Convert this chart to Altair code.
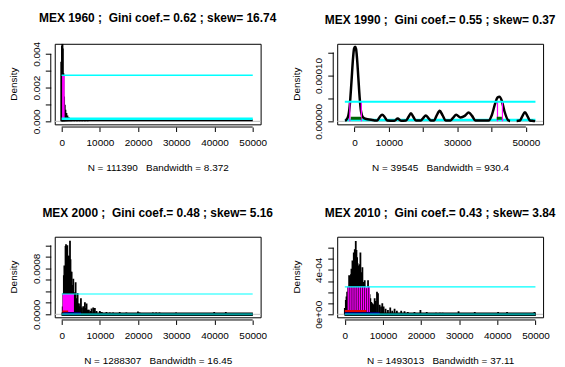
import altair as alt
import pandas as pd

FONT = "Liberation Sans"
NB = "\u00a0"

# ---------------- data ----------------
titles = ["MEX 1960 ;" + NB + " Gini coef.= 0.62 ; skew= 16.74",
          "MEX 1990 ;" + NB + " Gini coef.= 0.55 ; skew= 0.37",
          "MEX 2000 ;" + NB + " Gini coef.= 0.48 ; skew= 5.16",
          "MEX 2010 ;" + NB + " Gini coef.= 0.43 ; skew= 3.84"]
subtitles = ["N = 111390" + NB + NB + " Bandwidth = 8.372",
             "N = 39545" + NB + NB + " Bandwidth = 930.4",
             "N = 1288307" + NB + NB + " Bandwidth = 16.45",
             "N = 1493013" + NB + NB + " Bandwidth = 37.11"]
y_title = "Density"

x_ticks = [0, 10000, 20000, 30000, 40000, 50000]

# panel 1 (1960)
p1_xdom = [-1823, 52083]
p1_ydom = [-0.000177, 0.0046]
p1_yticks = [0, 0.001, 0.002, 0.003, 0.004]
p1_spike_x = [-100, 87, 180, 260, 434, 608, 781, 955, 1215, 1476, 1823, 2257,
              2604, 3299, 3993, 4688, 5382, 6076, 6771]
p1_spike_y = [0.00354, 0.00448, 0.0046, 0.00432, 0.00285, 0.00147, 0.00098,
              0.00069, 0.00049, 0.00035, 0.00024, 0.00016,
              0.00012, 0.00012, 0.00012, 0.00012, 0.00012, 0.00012, 0.00012]
p1_cyan_hi = 0.00273
p1_cyan_lo = 0.00016
p1_base = 0.00006
p1_mag_x = [300, 430, 560]
p1_mag_lo = 0.00015

# panel 2 (1990)
p2_xdom = [-5014, 55014]
p2_ydom = [-0.0000065, 0.000169]
p2_yticks = [0, 0.00005, 0.0001, 0.00015]
p2_curve_x = [-2700, -2495, -1821, -1339, -857, -376, -87, 202, 491, 780, 1165,
              1551, 1936, 2515, 3478, 4923, 5886,
              6656, 7330, 8101, 8872, 9547,
              11666, 12629, 13592,
              15037, 15808, 16482, 17156, 17927,
              19372, 20046, 20817, 21588, 22262,
              23226, 23996, 24863, 25730, 26597,
              28042, 28813, 29680, 30932, 32185, 33341, 34305, 35268,
              39122, 40085, 41048, 41723, 42301, 42975, 43746, 44902, 45384,
              47311, 48274, 48948, 49720, 50491, 51165, 52128, 52700]
p2_curve_y = [0.000001, 0.000002, 0.0000107, 0.0000358, 0.0000858, 0.0001395,
              0.0001588, 0.0001624, 0.0001574, 0.0001359, 0.000093, 0.00005,
              0.0000215, 0.0000086, 0.000005, 0.0000036, 0.0000021,
              0.000002, 0.000009, 0.0000143, 0.000009, 0.000002,
              0.0000015, 0.000006, 0.0000015,
              0.000002, 0.00001, 0.0000179, 0.00001, 0.000002,
              0.000002, 0.000007, 0.0000129, 0.000007, 0.000002,
              0.000002, 0.000013, 0.0000229, 0.000013, 0.000002,
              0.000002, 0.000008, 0.0000143, 0.0000086, 0.000012, 0.0000193,
              0.000012, 0.000002,
              0.000002, 0.000014, 0.000039, 0.000052, 0.0000537, 0.000045,
              0.000022, 0.000002, 0.000001,
              0.000001, 0.000002, 0.000011, 0.00002, 0.000011, 0.000002,
              0.000001, 0.0000005]
p2_curve_seg = [1] * 57 + [2] * 8
p2_cyan_hi = 0.0000429
p2_cyan_lo = 0.0000028
p2_cyan_x = [-2791, 52791]
p2_mag_x = [-1340, 2033, 41723, 43168]
p2_green_x = [-1050, 41500]
p2_green_x2 = [2030, 43000]
p2_green_y = 0.000007

# panel 3 (2000)
p3_xdom = [-1823, 52083]
p3_ydom = [-0.0000513, 0.00135]
p3_yticks = [0, 0.0002, 0.0004, 0.0006, 0.0008, 0.001, 0.0012]
p3_spike_x = [260, 434, 560, 694, 868, 1000, 1128, 1220, 1302, 1400, 1476, 1600,
              1736, 1820, 1910, 2050, 2170, 2300, 2431, 2520, 2604, 2800, 3038,
              3170, 3299, 3450, 3646, 3900, 4167, 4340, 4514, 4780, 5035, 5300,
              5642, 5850, 6076, 6300, 6510, 6800, 7118, 7500, 7813, 8247, 8681,
              9115, 9983, 10156, 10500, 11719, 12587, 13455, 15191, 16927, 19965,
              20399, 23872, 24740, 25608, 29948, 39931, 42969]
p3_spike_y = [0.000137, 0.000365, 0.00068, 0.000849, 0.00068, 0.00119, 0.00122,
              0.00108, 0.00116, 0.0009, 0.0012, 0.00079, 0.00102, 0.00056,
              0.00102, 0.00079, 0.00128, 0.00096, 0.00074, 0.00045, 0.00074,
              0.00051, 0.00062, 0.00039, 0.00037, 0.00028, 0.00056, 0.00028,
              0.00037, 0.00019, 0.00019, 0.00014, 0.00028, 0.00012, 0.00014,
              0.0001, 0.00021, 0.00011, 0.00019, 0.00008, 0.00008, 0.00006,
              0.0001, 0.00012, 0.00011, 0.00006, 0.00006, 0.00004, 0.00004,
              0.00004, 0.000034, 0.00003, 0.00004, 0.00003, 0.00005, 0.00003,
              0.00003, 0.00003, 0.00003, 0.00003, 0.00004, 0.00004]
p3_cyan_hi = 0.000354
p3_mag_x = [450, 600, 750, 900, 1050, 1200, 1350, 1500, 1650, 1800, 1950, 2100,
            2250, 2400, 2550, 2700, 2850, 3000]
p3_mag_lo = 0.00004
p3_red_x = [200, 1700]
p3_red_y = 0.00005
p3_navy_x = [434, 5035]
p3_navy_y = 0.00002

# panel 4 (2010)
p4_xdom = [-2000, 52000]
p4_ydom = [-0.0000269, 0.000699]
p4_yticks = [0, 0.0001, 0.0002, 0.0003, 0.0004, 0.0005, 0.0006]
p4_spike_x = [0, 261, 435, 609, 870, 1000, 1130, 1300, 1478, 1600, 1739, 1870,
              2000, 2200, 2348, 2480, 2609, 2740, 2870, 3050, 3218, 3350, 3479,
              3600, 3740, 3900, 4087, 4200, 4348, 4480, 4609, 4780, 4957, 5100,
              5218, 5400, 5653, 5850, 6088, 6200, 6348, 6500, 6696, 6950, 7218,
              7500, 7827, 8100, 8436, 8697, 9132, 9500, 9827, 10175, 10697,
              11306, 11914, 12436, 13045, 13653, 14785, 15655, 16524, 18263,
              19829, 21481, 23916, 24960, 25655, 29829, 34080, 40200, 42550,
              49740]
p4_spike_y = [0.000056, 0.00013, 0.00016, 0.000204, 0.000248, 0.00021, 0.000351,
              0.00025, 0.000322, 0.00036, 0.00041, 0.00038, 0.000484, 0.00045,
              0.000558, 0.00052, 0.000587, 0.00055, 0.000661, 0.00058, 0.000513,
              0.00046, 0.00044, 0.0004, 0.000425, 0.00045, 0.000558, 0.00035,
              0.000307, 0.00038, 0.000425, 0.00028, 0.000292, 0.00026, 0.000307,
              0.00022, 0.000233, 0.00024, 0.000307, 0.00022, 0.000248, 0.00018,
              0.000145, 0.00011, 0.0001, 0.00009, 0.000145, 0.00012, 0.000204,
              0.000189, 0.0000856, 0.00007, 0.0001, 0.0000708, 0.00005,
              0.0000383, 0.000062, 0.0000325, 0.00005, 0.0000325, 0.0000325,
              0.0000266, 0.0000206, 0.0000206, 0.0000383, 0.0000206, 0.0000148,
              0.0000148, 0.0000148, 0.0000266, 0.0000206, 0.0000206, 0.0000206,
              0.0000206]
p4_cyan_hi = 0.000248
p4_mag_x = [900, 1400, 1900, 2400, 2900, 3400, 3900, 4400, 4900, 5400, 5900, 6400]
p4_mag_lo = 0.00002
p4_red_x = [0, 5650]
p4_red_y = 0.00003
p4_navy_x = [0, 9132]
p4_navy_y = 0.00001

W, H = 207, 81
X_OFF, Y_OFF = 2.7, 4


# ---------------- helpers ----------------
def enc_x(dom, vals, expr, title):
    return alt.X("x:Q", scale=alt.Scale(domain=dom, nice=False, zero=False),
                 axis=alt.Axis(values=vals, labelExpr=expr, format="d", title=title))


def enc_y(dom, vals, expr):
    return alt.Y("y:Q", scale=alt.Scale(domain=dom, nice=False, zero=False),
                 axis=alt.Axis(values=vals, labelExpr=expr, title=""))


def hseg(xs, x2s, ys, X, Y, color, width, opacity=1.0):
    df = pd.DataFrame({"x": xs, "x2": x2s, "y": ys})
    return alt.Chart(df).mark_rule(color=color, strokeWidth=width, opacity=opacity,
                                   clip=True).encode(x=X, x2="x2:Q", y=Y)


def vseg(xs, ylo, yhi, X, Y, color, width):
    df = pd.DataFrame({"x": xs, "y": yhi, "y2": ylo})
    return alt.Chart(df).mark_rule(color=color, strokeWidth=width,
                                   clip=True).encode(x=X, y=Y, y2="y2:Q")


def zero_line(X, Y):
    df = pd.DataFrame({"y": [0.0]})
    return alt.Chart(df).mark_rule(color="#BEBEBE", strokeWidth=1).encode(y=Y)


def axis_lines(X, Y, xt, yt):
    dx = pd.DataFrame({"x": [xt[0]], "x2": [xt[-1]]})
    dy = pd.DataFrame({"y": [yt[0]], "y2": [yt[-1]]})
    lx = alt.Chart(dx).mark_rule(color="black", strokeWidth=1).encode(
        x=X, x2="x2:Q", y=alt.value(H + X_OFF))
    ly = alt.Chart(dy).mark_rule(color="black", strokeWidth=1).encode(
        y=Y, y2="y2:Q", x=alt.value(-Y_OFF))
    lab = alt.Chart(pd.DataFrame({"t": [y_title]})).mark_text(
        angle=270, font=FONT, fontSize=10, align="center", baseline="alphabetic",
        color="black").encode(text="t:N", x=alt.value(-37.7), y=alt.value(H / 2))
    return [lx, ly, lab]


def frame(chart, title):
    return chart.properties(width=W, height=H, title=alt.Title(title))


xlab_all = "datum.label"
xlab_p2 = "(datum.value == 20000 || datum.value == 40000) ? '' : datum.label"

# panel 1
X1 = enc_x(p1_xdom, x_ticks, xlab_all, subtitles[0])
Y1 = enc_y(p1_ydom, p1_yticks,
           "(datum.value == 0.001 || datum.value == 0.003) ? '' : format(datum.value, '.3f')")
n1 = len(p1_spike_x)
panel1 = alt.layer(
    zero_line(X1, Y1),
    hseg([-25], [50025], [p1_base], X1, Y1, "black", 2),
    vseg(p1_spike_x, [0.0] * n1, p1_spike_y, X1, Y1, "black", 2),
    vseg(p1_mag_x, [p1_mag_lo] * len(p1_mag_x), [p1_cyan_hi] * len(p1_mag_x), X1, Y1, "#FF00FF", 1.5),
    hseg([-25], [50025], [p1_cyan_hi], X1, Y1, "#00FFFF", 1.5),
    hseg([-25], [50025], [p1_cyan_lo], X1, Y1, "#00FFFF", 2.5),
    *axis_lines(X1, Y1, x_ticks, p1_yticks),
)
panel1 = frame(panel1, titles[0])

# panel 2
X2 = enc_x(p2_xdom, x_ticks, xlab_p2, subtitles[1])
Y2 = enc_y(p2_ydom, p2_yticks,
           "(datum.value == 0 || datum.value == 0.0001) ? format(datum.value, '.5f') : ''")
curve2 = alt.Chart(pd.DataFrame({"x": p2_curve_x, "y": p2_curve_y, "seg": p2_curve_seg})).mark_line(
    color="black", strokeWidth=2.5, clip=True, interpolate="monotone").encode(
    x=X2, y=Y2, detail="seg:N")
nm2 = len(p2_mag_x)
panel2 = alt.layer(
    zero_line(X2, Y2),
    hseg([p2_cyan_x[0]], [p2_cyan_x[1]], [p2_cyan_lo], X2, Y2, "#00FFFF", 2.5),
    curve2,
    vseg(p2_mag_x, [0.0] * nm2, [p2_cyan_hi] * nm2, X2, Y2, "#FF00FF", 1.2),
    hseg(p2_green_x, p2_green_x2, [p2_green_y] * 2, X2, Y2, "#006400", 3),
    hseg([p2_cyan_x[0]], [p2_cyan_x[1]], [p2_cyan_hi], X2, Y2, "#00FFFF", 2),
    *axis_lines(X2, Y2, x_ticks, p2_yticks),
)
panel2 = frame(panel2, titles[1])

# panel 3
X3 = enc_x(p3_xdom, x_ticks, xlab_all, subtitles[2])
Y3 = enc_y(p3_ydom, p3_yticks,
           "(datum.value == 0 || datum.value == 0.0008) ? format(datum.value, '.4f') : ''")
n3 = len(p3_spike_x)
nm3 = len(p3_mag_x)
panel3 = alt.layer(
    zero_line(X3, Y3),
    hseg([-50], [50050], [0.0], X3, Y3, "black", 3.5),
    vseg(p3_spike_x, [0.0] * n3, p3_spike_y, X3, Y3, "black", 1.8),
    vseg(p3_mag_x, [p3_mag_lo] * nm3, [p3_cyan_hi] * nm3, X3, Y3, "#FF00FF", 1.5),
    hseg([p3_red_x[0]], [p3_red_x[1]], [p3_red_y], X3, Y3, "#E00000", 2),
    hseg([p3_navy_x[0]], [p3_navy_x[1]], [p3_navy_y], X3, Y3, "#00008B", 2),
    hseg([0], [50000], [p3_cyan_hi], X3, Y3, "#00FFFF", 1.2),
    hseg([0], [50000], [0.0], X3, Y3, "#00FFFF", 2, 0.6),
    *axis_lines(X3, Y3, x_ticks, p3_yticks),
)
panel3 = frame(panel3, titles[2])

# panel 4
X4 = enc_x(p4_xdom, x_ticks, xlab_all, subtitles[3])
Y4 = enc_y(p4_ydom, p4_yticks,
           "datum.value == 0 ? '0e+00' : (datum.value == 0.0004 ? '4e-04' : '')")
n4 = len(p4_spike_x)
nm4 = len(p4_mag_x)
panel4 = alt.layer(
    zero_line(X4, Y4),
    hseg([-100], [50100], [0.0], X4, Y4, "black", 3.5),
    vseg(p4_spike_x, [0.0] * n4, p4_spike_y, X4, Y4, "black", 1.8),
    vseg(p4_mag_x, [p4_mag_lo] * nm4, [p4_cyan_hi] * nm4, X4, Y4, "#FF00FF", 1.3),
    hseg([p4_red_x[0]], [p4_red_x[1]], [p4_red_y], X4, Y4, "#E00000", 2),
    hseg([p4_navy_x[0]], [p4_navy_x[1]], [p4_navy_y], X4, Y4, "#00008B", 2),
    hseg([0], [50000], [p4_cyan_hi], X4, Y4, "#00FFFF", 1.2),
    hseg([0], [50000], [0.0], X4, Y4, "#00FFFF", 2, 0.6),
    *axis_lines(X4, Y4, x_ticks, p4_yticks),
)
panel4 = frame(panel4, titles[3])

chart = alt.concat(
    panel1, panel2, panel3, panel4, columns=2,
    spacing=alt.RowColnumber(row=113, column=77), bounds="flush",
).properties(
    padding={"left": 0, "top": 2, "right": 0, "bottom": 0},
    background="white",
).configure_axis(
    labelFont=FONT, titleFont=FONT, labelFontSize=10, titleFontSize=10,
    titleFontWeight="normal", labelColor="black", titleColor="black",
    tickColor="black", domain=False, grid=False,
    labelFlush=False, labelOverlap=False, labelBound=False,
).configure_axisX(
    offset=X_OFF, tickSize=4.5, labelPadding=6.3, titlePadding=15,
).configure_axisY(
    offset=Y_OFF, tickSize=5.5, labelAngle=270, labelAlign="center",
    labelBaseline="alphabetic", labelPadding=6.2,
).configure_view(
    stroke="black", strokeWidth=1,
).configure_title(
    font=FONT, fontSize=12, fontWeight="bold", anchor="middle",
    baseline="alphabetic", offset=17, color="black",
)

chart.save("out.html", embed_options={"renderer": "svg", "actions": False})
